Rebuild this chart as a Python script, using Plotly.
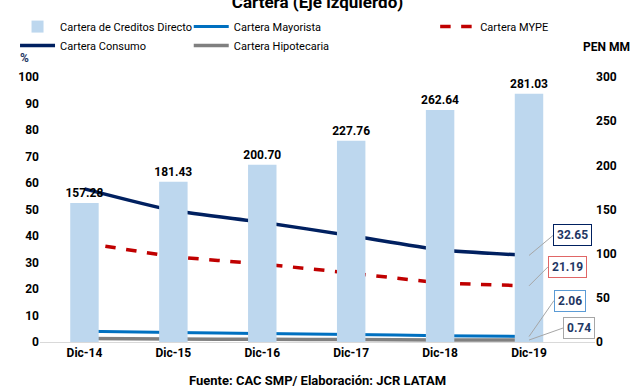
import plotly.graph_objects as go

categories = ["Dic-14", "Dic-15", "Dic-16", "Dic-17", "Dic-18", "Dic-19"]
cartera_total = [157.28, 181.43, 200.70, 227.76, 262.64, 281.03]
consumo = [57.8, 49.6, 45.2, 40.1, 34.8, 32.65]
mype = [37.4, 32.3, 29.4, 26.0, 22.4, 21.19]
mayorista = [4.1, 3.6, 3.2, 2.8, 2.4, 2.06]
hipotecaria = [1.3, 1.15, 1.0, 0.9, 0.8, 0.74]

FONT = "Roboto, Liberation Sans, sans-serif"
NAVY = "#002060"
RED = "#C00000"
BLUE = "#0070C0"
GRAY = "#808080"
BARC = "#BDD7EE"

fig = go.Figure()
fig.add_trace(go.Bar(
    x=categories, y=cartera_total, name="Cartera de Creditos Directo",
    marker=dict(color=BARC, line=dict(width=0)), yaxis="y2",
    text=[f"<b>{v:.2f}</b>" for v in cartera_total], textposition="outside",
    textfont=dict(family=FONT, size=12, color="#000000"), cliponaxis=False,
    constraintext="none", width=0.32, legend="legend",
))
fig.add_trace(go.Scatter(
    x=categories, y=mayorista, name="Cartera Mayorista", mode="lines",
    line=dict(color=BLUE, width=3, shape="spline", smoothing=0.6),
    legend="legend2",
))
fig.add_trace(go.Scatter(
    x=categories, y=mype, name="Cartera MYPE", mode="lines",
    line=dict(color=RED, width=3.5, dash="dash", shape="spline", smoothing=0.6),
    legend="legend3",
))
fig.add_trace(go.Scatter(
    x=categories, y=consumo, name="Cartera Consumo", mode="lines",
    line=dict(color=NAVY, width=3.5, shape="spline", smoothing=0.6),
    legend="legend",
))
fig.add_trace(go.Scatter(
    x=categories, y=hipotecaria, name="Cartera Hipotecaria", mode="lines",
    line=dict(color=GRAY, width=3.5, shape="spline", smoothing=0.6),
    legend="legend2",
))

last = categories[-1]
end_labels = [
    (consumo[-1], NAVY, 24, -20),
    (mype[-1], "#E06666", 19, -19),
    (mayorista[-1], "#5B9BD5", 25, -36),
    (hipotecaria[-1], "#A6A6A6", 34, -12),
]
for val, bc, ax, ay in end_labels:
    fig.add_annotation(
        x=last, y=val, xref="x", yref="y", text=f"<b>{val:.2f}</b>",
        showarrow=True, arrowhead=0, arrowwidth=1, arrowcolor="#A6A6A6",
        ax=ax, ay=ay, bgcolor="white", bordercolor=bc, borderwidth=1,
        borderpad=3, font=dict(family=FONT, size=12, color="#1F3864"),
        xanchor="left",
    )

fig.add_annotation(x=-0.028, y=1.07, xref="paper", yref="paper", text="<b>%</b>",
                   showarrow=False, font=dict(family=FONT, size=12, color="#1F3864"),
                   xanchor="center", yanchor="middle")
fig.add_annotation(x=1.02, y=1.115, xref="paper", yref="paper", text="<b>PEN MM</b>",
                   showarrow=False, font=dict(family=FONT, size=12, color="#000000"),
                   xanchor="center", yanchor="middle")
fig.add_annotation(x=0.5, y=-0.145, xref="paper", yref="paper",
                   text="<b>Fuente: CAC SMP/ Elaboración: JCR LATAM</b>",
                   showarrow=False, font=dict(family=FONT, size=13, color="#000000"),
                   xanchor="center", yanchor="middle")

leg_common = dict(orientation="v", yanchor="top", xanchor="left", traceorder="normal",
                  font=dict(family=FONT, size=11, color="#000000"),
                  itemwidth=35, tracegroupgap=0, bgcolor="rgba(0,0,0,0)")

fig.update_layout(
    width=635, height=390,
    margin=dict(l=40, r=40, t=72, b=48),
    paper_bgcolor="white", plot_bgcolor="white",
    font=dict(family=FONT, size=12, color="#000000"),
    title=dict(text="<b>Cartera (Eje izquierdo)</b>", x=0.5, xanchor="center",
               y=0.995, yanchor="middle", yref="container",
               font=dict(family=FONT, size=17, color="#000000")),
    bargap=0.68,
    showlegend=True,
    legend=dict(x=-0.045, y=1.245, **leg_common),
    legend2=dict(x=0.268, y=1.245, **leg_common),
    legend3=dict(x=0.712, y=1.245, **leg_common),
    xaxis=dict(type="category", showgrid=False, showline=True, linecolor="#D9D9D9",
               linewidth=1, ticks="", tickfont=dict(family=FONT, size=12, color="#000000"),
               tickprefix="<b>", ticksuffix="</b>", zeroline=False),
    yaxis=dict(range=[0, 100], dtick=10, showgrid=False, zeroline=False,
               showline=False, ticks="", tickprefix="<b>", ticksuffix="</b>",
               tickfont=dict(family=FONT, size=12, color="#000000")),
    yaxis2=dict(range=[0, 300], dtick=50, overlaying="y", side="right",
                showgrid=False, zeroline=False, showline=False, ticks="",
                tickprefix="<b>", ticksuffix="</b>",
                tickfont=dict(family=FONT, size=12, color="#000000")),
)

fig.write_html("out.html")
